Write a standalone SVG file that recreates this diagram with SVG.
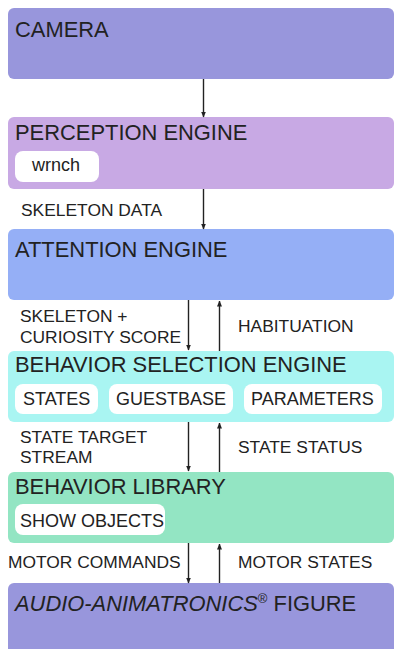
<svg xmlns="http://www.w3.org/2000/svg" width="394" height="649" viewBox="0 0 394 649">
<defs>
<marker id="ah" viewBox="0 0 6 6" refX="5.5" refY="3" markerWidth="6" markerHeight="6" markerUnits="userSpaceOnUse" orient="auto">
<path d="M0,0.5 L6,3 L0,5.5 Z" fill="#222"/>
</marker>
</defs>
<style>
text{font-family:"Liberation Sans",Arial,sans-serif;fill:#222}
.t{font-size:21.9px}
.l{font-size:17.4px}
.p{font-size:18px}
.pill{fill:#fff}
.c{stroke:#222;stroke-width:1.4;fill:none;marker-end:url(#ah)}
</style>
<rect width="394" height="649" fill="#fff"/>
<g id="camera">
<rect x="8" y="8" width="386" height="71" rx="6" fill="#9896dc"/>
<text class="t" x="15" y="37">CAMERA</text>
</g>
<g id="perception">
<rect x="8" y="117" width="386" height="72" rx="6" fill="#c8a9e4"/>
<text class="t" x="15" y="140">PERCEPTION ENGINE</text>
<rect class="pill" x="15" y="151" width="84" height="31" rx="8"/>
<text class="p" x="32" y="171">wrnch</text>
</g>
<g id="attention">
<rect x="8" y="229" width="386" height="71" rx="6" fill="#95aff6"/>
<text class="t" x="15" y="257">ATTENTION ENGINE</text>
</g>
<g id="behavior-selection">
<rect x="8" y="351" width="386" height="71" rx="6" fill="#a9f5f2"/>
<text class="t" x="15" y="372">BEHAVIOR SELECTION ENGINE</text>
<rect class="pill" x="15" y="384" width="83" height="30" rx="8"/>
<text class="p" x="23" y="405">STATES</text>
<rect class="pill" x="109" y="384" width="124" height="30" rx="8"/>
<text class="p" x="116" y="405">GUESTBASE</text>
<rect class="pill" x="244" y="384" width="138" height="30" rx="8"/>
<text class="p" x="251" y="405">PARAMETERS</text>
</g>
<g id="behavior-library">
<rect x="8" y="472" width="386" height="71" rx="6" fill="#93e5c3"/>
<text class="t" x="15" y="494">BEHAVIOR LIBRARY</text>
<rect class="pill" x="15" y="504" width="150" height="31" rx="8"/>
<text class="p" x="20" y="527" font-size="17.5">SHOW OBJECTS</text>
</g>
<g id="figure">
<rect x="8" y="583" width="386" height="80" rx="6" fill="#9896dc"/>
<text class="t" x="15" y="611"><tspan font-style="italic">AUDIO-ANIMATRONICS</tspan><tspan font-size="13" dy="-8">®</tspan><tspan dy="8"> FIGURE</tspan></text>
</g>
<g id="connectors">
<line class="c" x1="203.5" y1="79" x2="203.5" y2="117"/>
<line class="c" x1="203.5" y1="189" x2="203.5" y2="229"/>
<line class="c" x1="188.5" y1="300" x2="188.5" y2="350"/>
<line class="c" x1="219.5" y1="351" x2="219.5" y2="301"/>
<line class="c" x1="188.5" y1="422" x2="188.5" y2="471"/>
<line class="c" x1="219.5" y1="472" x2="219.5" y2="423"/>
<line class="c" x1="188.5" y1="543" x2="188.5" y2="583"/>
<line class="c" x1="219.5" y1="583" x2="219.5" y2="544"/>
<text class="l" x="21" y="216">SKELETON DATA</text>
<text class="l" x="20" y="322">SKELETON +</text>
<text class="l" x="20" y="343">CURIOSITY SCORE</text>
<text class="l" x="238" y="332">HABITUATION</text>
<text class="l" x="20" y="443">STATE TARGET</text>
<text class="l" x="20" y="463">STREAM</text>
<text class="l" x="238" y="453">STATE STATUS</text>
<text class="l" x="8" y="568">MOTOR COMMANDS</text>
<text class="l" x="238" y="568">MOTOR STATES</text>
</g>
</svg>
